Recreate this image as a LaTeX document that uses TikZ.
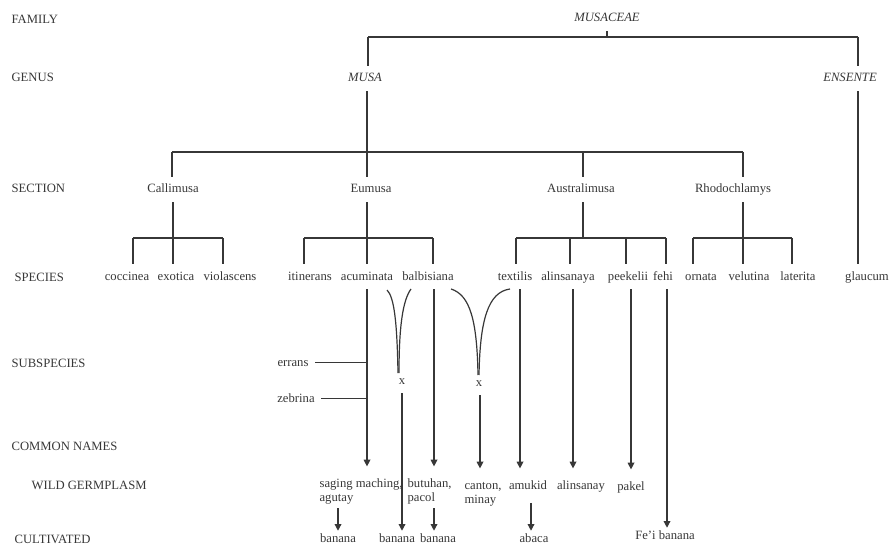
\documentclass[tikz,border=0pt]{standalone}
\usepackage{fontspec}
\setmainfont{Liberation Serif}
\usetikzlibrary{arrows.meta}

\definecolor{ink}{RGB}{55,55,55}
\tikzset{every picture/.style={line width=0.9pt}}
\tikzset{
  lvl/.style={anchor=base west,inner sep=0.75pt,font=\fontsize{9.5}{10.5}\selectfont},
  taxon/.style={anchor=base,inner sep=4.5pt,text height=7pt,text depth=2pt,font=\fontsize{9.5}{10.5}\selectfont},
  genus/.style={taxon,font=\fontsize{9.5}{10.5}\selectfont\itshape},
  wild/.style={anchor=base west,inner xsep=0.75pt,inner ysep=8pt,text height=7pt,text depth=2pt,font=\fontsize{9.5}{10.5}\selectfont},
  wildlow/.style={wild,inner ysep=3pt},
  cult/.style={anchor=base,inner xsep=0.75pt,inner ysep=1pt,text height=7pt,text depth=2pt,font=\fontsize{9.5}{10.5}\selectfont},
  tip/.style={-{Triangle[length=5pt,width=5pt]}},
}

\begin{document}
\begin{tikzpicture}[x=0.75pt,y=0.75pt,yscale=-1,xscale=1,color=ink]
\useasboundingbox (0,0) rectangle (891,545);

% Text Node
\node[lvl] (lfamily) at (10,24) {FAMILY};
% Text Node
\node[lvl] (lgenus) at (10,82) {GENUS};
% Text Node
\node[lvl] (lsection) at (10,193) {SECTION};
% Text Node
\node[lvl] (lspecies) at (13,281) {SPECIES};
% Text Node
\node[lvl] (lsubspecies) at (10,367) {SUBSPECIES};
% Text Node
\node[lvl] (lcommon) at (10,450) {COMMON NAMES};
% Text Node
\node[lvl] (lwild) at (30,489) {WILD GERMPLASM};
% Text Node
\node[lvl] (lcultivated) at (13,543) {CULTIVATED};

% Text Node
\node[genus] (musaceae) at (607,22) {MUSACEAE};
% Text Node
\node[genus] (musa) at (365,82) {MUSA};
% Text Node
\node[genus] (ensente) at (850,82) {ENSENTE};

% Text Node
\node[taxon] (callimusa) at (173,193) {Callimusa};
% Text Node
\node[taxon] (eumusa) at (371,193) {Eumusa};
% Text Node
\node[taxon] (australimusa) at (581,193) {Australimusa};
% Text Node
\node[taxon] (rhodochlamys) at (733,193) {Rhodochlamys};

% Text Node
\node[taxon] (coccinea) at (127,280) {coccinea};
\node[taxon] (exotica) at (176,280) {exotica};
\node[taxon] (violascens) at (230,280) {violascens};
% Text Node
\node[taxon] (itinerans) at (310,280) {itinerans};
\node[taxon] (acuminata) at (367,280) {acuminata};
\node[taxon] (balbisiana) at (428,280) {balbisiana};
% Text Node
\node[taxon] (textilis) at (515,280) {textilis};
\node[taxon] (alinsanaya) at (568,280) {alinsanaya};
\node[taxon] (peekelii) at (628,280) {peekelii};
\node[taxon] (fehi) at (663,280) {fehi};
% Text Node
\node[taxon] (ornata) at (701,280) {ornata};
\node[taxon] (velutina) at (749,280) {velutina};
\node[taxon] (laterita) at (798,280) {laterita};
% Text Node
\node[taxon] (glaucum) at (867,280) {glaucum};

% Text Node
\node[taxon] (errans) at (293,366) {errans};
\node[taxon] (zebrina) at (296,402) {zebrina};
% Text Node
\node[taxon] (x1) at (402,384) {x};
\node[taxon] (x2) at (479,386) {x};

% Text Node
\node[wild] (saging) at (318,487) {saging maching,};
\node[wildlow] (agutay) at (318,501) {agutay};
\node[wild] (butuhan) at (406,487) {butuhan,};
\node[wildlow] (pacol) at (406,501) {pacol};
\node[wild] (canton) at (463,489) {canton,};
\node[wildlow] (minay) at (463,503) {minay};
\node[wild,anchor=base] (amukid) at (528,489) {amukid};
\node[wild,anchor=base] (alinsanay) at (581,489) {alinsanay};
\node[wild,anchor=base] (pakel) at (631,490) {pakel};

% Text Node
\node[cult] (bananaA) at (338,542) {banana};
\node[cult] (bananaB) at (397,542) {banana};
\node[cult] (bananaC) at (438,542) {banana};
\node[cult] (abaca) at (534,542) {abaca};
\node[cult] (feibanana) at (665,539) {Fe'i banana};

%Straight Lines
\coordinate (famL) at (368,37);
\coordinate (famR) at (858,37);
\draw (famL) -- (famR);
\draw (musaceae.south) -- (musaceae.south |- famL);
\draw (famL) -- (famL |- musa.north);
\draw (famR) -- (famR |- ensente.north);
\draw (famR |- ensente.south) -- (famR |- glaucum.north);
\draw (367,0 |- musa.south) -- (367,0 |- eumusa.north);

%Straight Lines
\coordinate (secL) at (172,152);
\coordinate (secA) at (583,152);
\coordinate (secR) at (743,152);
\draw (secL) -- (secR);
\draw (secL) -- (secL |- callimusa.north);
\draw (secA) -- (secA |- australimusa.north);
\draw (secR) -- (secR |- rhodochlamys.north);

%Straight Lines
\draw (173,0 |- callimusa.south) -- (173,0 |- exotica.north);
\draw (133,238) -- (223,238);
\draw (133,238) -- (133,0 |- coccinea.north);
\draw (223,238) -- (223,0 |- violascens.north);

%Straight Lines
\draw (367,0 |- eumusa.south) -- (367,0 |- acuminata.north);
\draw (304,238) -- (433,238);
\draw (304,238) -- (304,0 |- itinerans.north);
\draw (433,238) -- (433,0 |- balbisiana.north);

%Straight Lines
\draw (583,0 |- australimusa.south) -- (583,238);
\draw (516,238) -- (666,238);
\draw (516,238) -- (516,0 |- textilis.north);
\draw (570,238) -- (570,0 |- alinsanaya.north);
\draw (626,238) -- (626,0 |- peekelii.north);
\draw (666,238) -- (666,0 |- fehi.north);

%Straight Lines
\draw (743,0 |- rhodochlamys.south) -- (743,0 |- velutina.north);
\draw (693,238) -- (792,238);
\draw (693,238) -- (693,0 |- ornata.north);
\draw (792,238) -- (792,0 |- laterita.north);

%Straight Lines
\draw[tip] (367,0 |- acuminata.south) -- (367,0 |- saging.north);
\draw (errans.east) -- (errans.east -| 367,0);
\draw (zebrina.east) -- (zebrina.east -| 367,0);
\draw[tip] (434,0 |- balbisiana.south) -- (434,0 |- butuhan.north);

%Curve Lines
\coordinate (v1a) at (387,290);
\coordinate (v1b) at (411,289);
\coordinate (v1) at (398,373);
\draw (v1a) .. controls (394,297) and (397,320) .. (v1);
\draw (v1b) .. controls (403,300) and (399,325) .. ([xshift=0.75pt]v1);
\draw[tip] (402,0 |- x1.south) -- (402,0 |- bananaB.north);

%Curve Lines
\coordinate (v2a) at (451,289);
\coordinate (v2b) at (510,289);
\coordinate (v2) at (478,375);
\draw (v2a) .. controls (470,295) and (477,320) .. (v2);
\draw (v2b) .. controls (488,292) and (480,320) .. ([xshift=0.75pt]v2);
\draw[tip] (480,0 |- x2.south) -- (480,0 |- canton.north);

%Straight Lines
\draw[tip] (520,0 |- textilis.south) -- (520,0 |- amukid.north);
\draw[tip] (573,0 |- alinsanaya.south) -- (573,0 |- alinsanay.north);
\draw[tip] (631,0 |- peekelii.south) -- (631,0 |- pakel.north);
\draw[tip] (667,0 |- fehi.south) -- (667,0 |- feibanana.north);

%Straight Lines
\draw[tip] (338,0 |- agutay.south) -- (338,0 |- bananaA.north);
\draw[tip] (434,0 |- pacol.south) -- (434,0 |- bananaC.north);
\draw[tip] (531,0 |- amukid.south) -- (531,0 |- abaca.north);

\end{tikzpicture}
\end{document}
